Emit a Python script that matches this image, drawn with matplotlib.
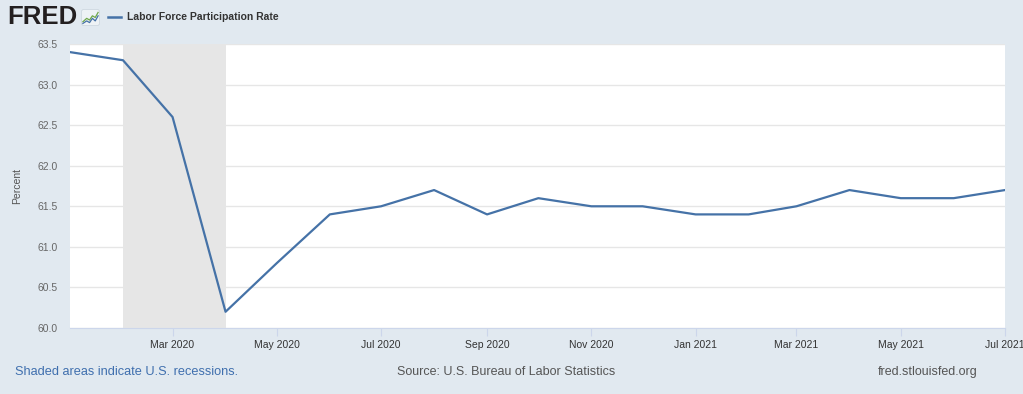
import numpy as np
import pandas as pd
import matplotlib
matplotlib.use("Agg")
import matplotlib.pyplot as plt
import matplotlib.dates as mdates
from matplotlib.patches import FancyBboxPatch

plt.rcParams['font.family'] = ['Liberation Sans', 'DejaVu Sans']

# monthly labor force participation rate, Jan 2020 - Jul 2021
months = pd.date_range('2020-01-01', periods=19, freq='MS')
rate = [63.4, 63.3, 62.6, 60.2, 60.8, 61.4, 61.5, 61.7, 61.4, 61.6,
        61.5, 61.5, 61.4, 61.4, 61.5, 61.7, 61.6, 61.6, 61.7]
recession = ['2020-02-01', '2020-04-01']
yticks = [60.0, 60.5, 61.0, 61.5, 62.0, 62.5, 63.0, 63.5]
xticks = ['2020-03-01', '2020-05-01', '2020-07-01', '2020-09-01', '2020-11-01',
          '2021-01-01', '2021-03-01', '2021-05-01', '2021-07-01']

bg = '#e1e9f0'
line_col = '#4572a7'

fig = plt.figure(figsize=(10.23, 3.94), dpi=100, facecolor=bg)
ax = fig.add_axes([70/1023, 1-328/394, 935/1023, 284/394])
ax.set_facecolor('white')

ax.axvspan(pd.Timestamp(recession[0]), pd.Timestamp(recession[1]),
           color='#e6e6e6', lw=0, zorder=1)
ax.plot(months, rate, color=line_col, lw=1.6, zorder=3)

ax.set_xlim(months[0], months[-1])
ax.set_ylim(60.0, 63.5)
ax.set_yticks(yticks)
ax.set_yticklabels([f'{v:.1f}' for v in yticks])
ax.set_xticks([pd.Timestamp(t) for t in xticks])
ax.xaxis.set_major_formatter(mdates.DateFormatter('%b %Y'))
ax.grid(axis='y', color='#e6e6e6', lw=1, zorder=0)

for s in ['top', 'right', 'left']:
    ax.spines[s].set_visible(False)
ax.spines['bottom'].set_color('#ccd6eb')
ax.tick_params(axis='y', length=0, labelsize=7.5, labelcolor='#666666', pad=9)
ax.tick_params(axis='x', length=6, color='#ccd6eb', labelsize=7.5,
               labelcolor='#333333', pad=3)
ax.set_ylabel('Percent', fontsize=7.5, color='#555555', labelpad=11)

# header: FRED logo and legend
fig.text(7/1023, 1-17/394, 'FRED', fontsize=18.5, fontweight='bold',
         color='#231f20', va='center', ha='left')
icon = fig.add_axes([81/1023, 1-26/394, 19/1023, 17/394])
icon.set_xlim(0, 1)
icon.set_ylim(0, 1)
icon.axis('off')
icon.add_patch(FancyBboxPatch((0.02, 0.02), 0.96, 0.96,
                              boxstyle='round,pad=0,rounding_size=0.15',
                              fc='#eef2f5', ec='#c9d3dc', lw=0.5))
icon.plot([0.1, 0.3, 0.45, 0.6, 0.75, 0.9], [0.25, 0.45, 0.35, 0.6, 0.5, 0.8],
          color='#6fa84a', lw=0.9)
icon.plot([0.1, 0.3, 0.45, 0.6, 0.75, 0.9], [0.15, 0.3, 0.2, 0.45, 0.3, 0.6],
          color='#4572a7', lw=0.9)

fig.lines.append(plt.Line2D([108/1023, 121/1023], [1-17/394, 1-17/394],
                            transform=fig.transFigure, color=line_col, lw=1.8))
fig.text(127/1023, 1-17/394, 'Labor Force Participation Rate', fontsize=7.5,
         fontweight='bold', color='#333333', va='center', ha='left')

# footer
fig.text(15/1023, 1-372/394, 'Shaded areas indicate U.S. recessions.',
         fontsize=9.2, color='#3f6fae', va='center', ha='left')
fig.text(506/1023, 1-372/394, 'Source: U.S. Bureau of Labor Statistics',
         fontsize=9, color='#555555', va='center', ha='center')
fig.text(978/1023, 1-372/394, 'fred.stlouisfed.org',
         fontsize=9, color='#555555', va='center', ha='right')

fig.savefig('out.png', dpi=100, facecolor=bg)
